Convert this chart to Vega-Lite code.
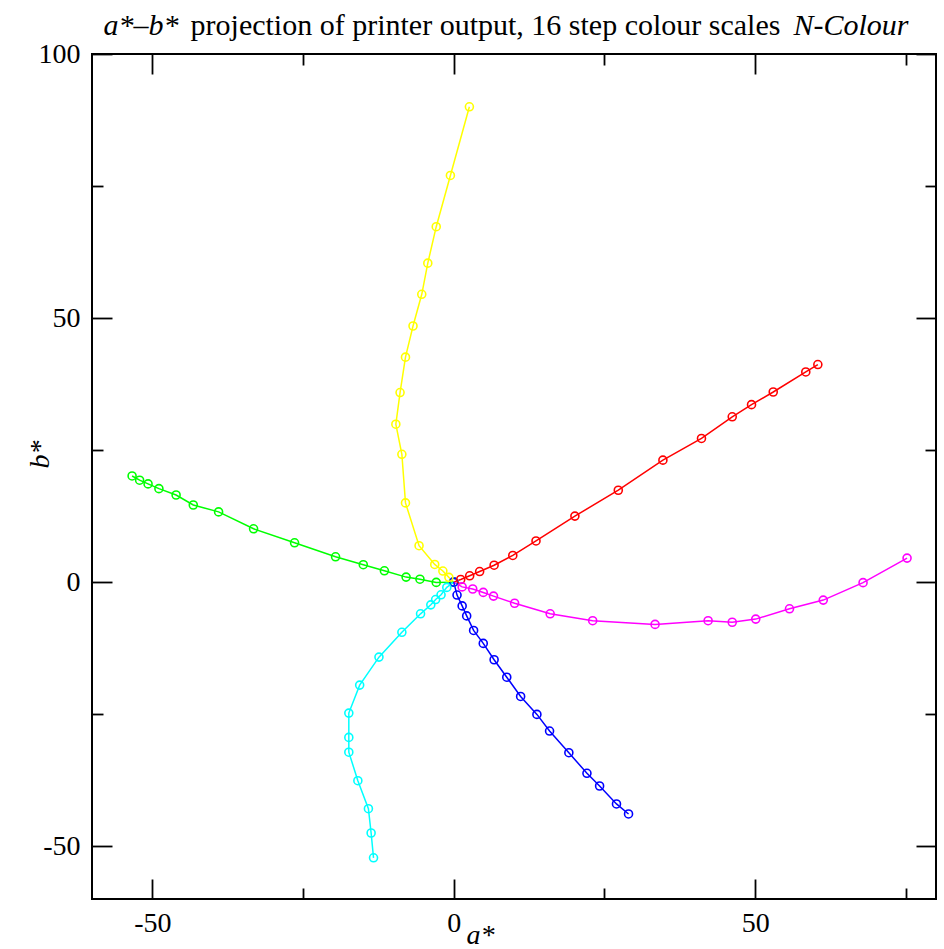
{
  "$schema": "https://vega.github.io/schema/vega-lite/v6.json",
  "width": 844,
  "height": 845,
  "autosize": "none",
  "padding": {"left": 92, "top": 54, "right": 8, "bottom": 50},
  "background": "white",
  "config": {
    "view": {"stroke": "black", "strokeWidth": 2},
    "font": "Liberation Serif",
    "axis": {
      "grid": false,
      "domain": false,
      "labelFont": "Liberation Serif",
      "labelFontSize": 28,
      "labelColor": "black",
      "tickColor": "black",
      "tickWidth": 1.8,
      "titleFont": "Liberation Serif",
      "titleFontStyle": "italic",
      "titleFontWeight": "normal",
      "titleFontSize": 28,
      "titleColor": "black"
    }
  },
  "data": {
    "values": [
      {"s":"yellow","i":0,"a":0,"b":0},
      {"s":"yellow","i":1,"a":-0.8,"b":0.9},
      {"s":"yellow","i":2,"a":-1.8,"b":2.1},
      {"s":"yellow","i":3,"a":-3.15,"b":3.35},
      {"s":"yellow","i":4,"a":-5.75,"b":6.9},
      {"s":"yellow","i":5,"a":-8.0,"b":15.0},
      {"s":"yellow","i":6,"a":-8.6,"b":24.2},
      {"s":"yellow","i":7,"a":-9.6,"b":29.9},
      {"s":"yellow","i":8,"a":-8.9,"b":35.9},
      {"s":"yellow","i":9,"a":-8.0,"b":42.6},
      {"s":"yellow","i":10,"a":-6.75,"b":48.5},
      {"s":"yellow","i":11,"a":-5.3,"b":54.5},
      {"s":"yellow","i":12,"a":-4.3,"b":60.4},
      {"s":"yellow","i":13,"a":-2.9,"b":67.3},
      {"s":"yellow","i":14,"a":-0.55,"b":77.0},
      {"s":"yellow","i":15,"a":2.6,"b":90.0},
      {"s":"red","i":0,"a":0,"b":0},
      {"s":"red","i":1,"a":1.16,"b":0.5},
      {"s":"red","i":2,"a":2.65,"b":1.2},
      {"s":"red","i":3,"a":4.3,"b":2.0},
      {"s":"red","i":4,"a":6.7,"b":3.2},
      {"s":"red","i":5,"a":9.8,"b":5.05},
      {"s":"red","i":6,"a":13.65,"b":7.8},
      {"s":"red","i":7,"a":20.1,"b":12.5},
      {"s":"red","i":8,"a":27.3,"b":17.4},
      {"s":"red","i":9,"a":34.7,"b":23.1},
      {"s":"red","i":10,"a":41.1,"b":27.2},
      {"s":"red","i":11,"a":46.2,"b":31.3},
      {"s":"red","i":12,"a":49.4,"b":33.6},
      {"s":"red","i":13,"a":53.0,"b":36.0},
      {"s":"red","i":14,"a":58.4,"b":39.8},
      {"s":"red","i":15,"a":60.4,"b":41.2},
      {"s":"magenta","i":0,"a":0,"b":0},
      {"s":"magenta","i":1,"a":1.4,"b":-0.9},
      {"s":"magenta","i":2,"a":3.15,"b":-1.3},
      {"s":"magenta","i":3,"a":4.9,"b":-1.95},
      {"s":"magenta","i":4,"a":6.6,"b":-2.65},
      {"s":"magenta","i":5,"a":10.1,"b":-4.0},
      {"s":"magenta","i":6,"a":16.0,"b":-6.0},
      {"s":"magenta","i":7,"a":23.05,"b":-7.3},
      {"s":"magenta","i":8,"a":33.4,"b":-8.0},
      {"s":"magenta","i":9,"a":42.2,"b":-7.3},
      {"s":"magenta","i":10,"a":46.2,"b":-7.6},
      {"s":"magenta","i":11,"a":50.1,"b":-7.0},
      {"s":"magenta","i":12,"a":55.7,"b":-5.05},
      {"s":"magenta","i":13,"a":61.3,"b":-3.4},
      {"s":"magenta","i":14,"a":67.9,"b":-0.1},
      {"s":"magenta","i":15,"a":75.2,"b":4.55},
      {"s":"green","i":0,"a":0,"b":0},
      {"s":"green","i":1,"a":-2.9,"b":-0.05},
      {"s":"green","i":2,"a":-5.6,"b":0.55},
      {"s":"green","i":3,"a":-7.9,"b":0.95},
      {"s":"green","i":4,"a":-11.5,"b":2.15},
      {"s":"green","i":5,"a":-15.0,"b":3.3},
      {"s":"green","i":6,"a":-19.6,"b":4.8},
      {"s":"green","i":7,"a":-26.4,"b":7.45},
      {"s":"green","i":8,"a":-33.2,"b":10.1},
      {"s":"green","i":9,"a":-39.0,"b":13.3},
      {"s":"green","i":10,"a":-43.2,"b":14.6},
      {"s":"green","i":11,"a":-46.05,"b":16.5},
      {"s":"green","i":12,"a":-48.9,"b":17.7},
      {"s":"green","i":13,"a":-50.7,"b":18.6},
      {"s":"green","i":14,"a":-52.1,"b":19.3},
      {"s":"green","i":15,"a":-53.35,"b":20.1},
      {"s":"cyan","i":0,"a":0,"b":0},
      {"s":"cyan","i":1,"a":-1.15,"b":-1.0},
      {"s":"cyan","i":2,"a":-2.1,"b":-2.4},
      {"s":"cyan","i":3,"a":-3.0,"b":-3.3},
      {"s":"cyan","i":4,"a":-3.8,"b":-4.3},
      {"s":"cyan","i":5,"a":-5.5,"b":-6.0},
      {"s":"cyan","i":6,"a":-8.6,"b":-9.5},
      {"s":"cyan","i":7,"a":-12.4,"b":-14.2},
      {"s":"cyan","i":8,"a":-15.6,"b":-19.5},
      {"s":"cyan","i":9,"a":-17.4,"b":-24.8},
      {"s":"cyan","i":10,"a":-17.4,"b":-29.4},
      {"s":"cyan","i":11,"a":-17.4,"b":-32.2},
      {"s":"cyan","i":12,"a":-15.9,"b":-37.6},
      {"s":"cyan","i":13,"a":-14.15,"b":-42.9},
      {"s":"cyan","i":14,"a":-13.7,"b":-47.5},
      {"s":"cyan","i":15,"a":-13.3,"b":-52.2},
      {"s":"blue","i":0,"a":0,"b":0},
      {"s":"blue","i":1,"a":0.55,"b":-2.45},
      {"s":"blue","i":2,"a":1.4,"b":-4.5},
      {"s":"blue","i":3,"a":2.15,"b":-6.4},
      {"s":"blue","i":4,"a":3.3,"b":-9.15},
      {"s":"blue","i":5,"a":4.9,"b":-11.6},
      {"s":"blue","i":6,"a":6.7,"b":-14.7},
      {"s":"blue","i":7,"a":8.8,"b":-18.0},
      {"s":"blue","i":8,"a":11.1,"b":-21.65},
      {"s":"blue","i":9,"a":13.8,"b":-25.05},
      {"s":"blue","i":10,"a":15.9,"b":-28.2},
      {"s":"blue","i":11,"a":19.1,"b":-32.3},
      {"s":"blue","i":12,"a":22.1,"b":-36.2},
      {"s":"blue","i":13,"a":24.2,"b":-38.6},
      {"s":"blue","i":14,"a":27.0,"b":-42.0},
      {"s":"blue","i":15,"a":29.0,"b":-43.9}
    ]
  },
  "layer": [
    {
      "mark": {"type": "line", "strokeWidth": 1.5, "point": {"filled": false, "size": 64, "strokeWidth": 1.6}},
      "encoding": {
        "x": {"field": "a", "type": "quantitative", "scale": {"domain": [-60, 80], "nice": false, "zero": false},
          "axis": {"orient": "bottom", "values": [-50, 0, 50], "tickSize": -20, "labelPadding": 30, "labelExpr": "'' + datum.value", "title": "a*", "titleX": 388, "titleY": 44, "titleBaseline": "alphabetic", "titleAlign": "center"}},
        "y": {"field": "b", "type": "quantitative", "scale": {"domain": [-60, 100], "nice": false, "zero": false},
          "axis": {"orient": "left", "values": [-50, 0, 50, 100], "tickSize": -20, "labelPadding": 32, "labelExpr": "'' + datum.value", "title": "b*", "titleX": -44, "titleY": 400, "titleAngle": -90, "titleBaseline": "alphabetic", "titleAlign": "center"}},
        "color": {"field": "s", "type": "nominal", "legend": null,
          "scale": {"domain": ["yellow", "red", "magenta", "green", "cyan", "blue"], "range": ["#ffff00", "#ff0000", "#ff00ff", "#00ff00", "#00ffff", "#0000ff"]}},
        "order": {"field": "i", "type": "quantitative"}
      }
    },
    {
      "mark": {"type": "point", "opacity": 0},
      "encoding": {
        "x": {"field": "a", "type": "quantitative", "axis": {"orient": "bottom", "values": [-25, 25, 75], "tickSize": -11, "labels": false, "title": null}},
        "y": {"field": "b", "type": "quantitative", "axis": {"orient": "left", "values": [-25, 25, 75], "tickSize": -11, "labels": false, "title": null}}
      }
    },
    {
      "mark": {"type": "point", "opacity": 0},
      "encoding": {
        "x": {"field": "a", "type": "quantitative", "axis": {"orient": "top", "values": [-50, 0, 50], "tickSize": -20, "labels": false,
          "title": "a*–b*", "titleFontSize": 30, "titleFontStyle": "italic", "titleX": 11, "titleY": -20, "titleAlign": "left", "titleBaseline": "alphabetic"}},
        "y": {"field": "b", "type": "quantitative", "axis": {"orient": "right", "values": [-50, 0, 50, 100], "tickSize": -20, "labels": false, "title": null}}
      }
    },
    {
      "mark": {"type": "point", "opacity": 0},
      "encoding": {
        "x": {"field": "a", "type": "quantitative", "axis": {"orient": "top", "values": [-25, 25, 75], "tickSize": -11, "labels": false,
          "title": "projection of printer output, 16 step colour scales", "titleFontSize": 30, "titleFontStyle": "normal", "titleX": 393, "titleY": -20, "titleAlign": "center", "titleBaseline": "alphabetic"}},
        "y": {"field": "b", "type": "quantitative", "axis": {"orient": "right", "values": [-25, 25, 75], "tickSize": -11, "labels": false, "title": null}}
      }
    },
    {
      "mark": {"type": "point", "opacity": 0},
      "encoding": {
        "x": {"field": "a", "type": "quantitative", "axis": {"orient": "top", "values": [0], "ticks": false, "labels": false,
          "title": "N-Colour", "titleFontSize": 30, "titleFontStyle": "italic", "titleX": 816, "titleY": -20, "titleAlign": "right", "titleBaseline": "alphabetic"}}
      }
    }
  ],
  "resolve": {"axis": {"x": "independent", "y": "independent"}}
}
